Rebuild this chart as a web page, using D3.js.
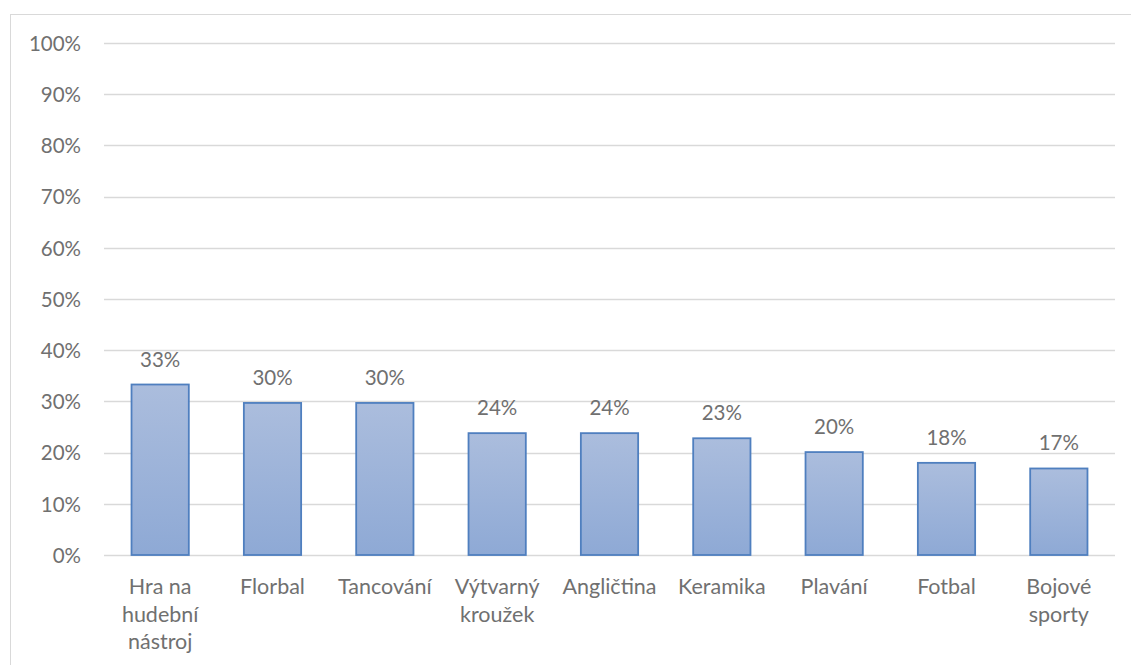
<!DOCTYPE html>
<html>
<head>
<meta charset="utf-8">
<script src="https://cdn.jsdelivr.net/npm/d3@7"></script>
<style>
  body { margin: 0; background: #fff; }
  text { font-family: Lato, "Open Sans", sans-serif; fill: #707070; }
</style>
</head>
<body>
<div id="chart"></div>
<script>
const categories = ["Hra na hudební nástroj", "Florbal", "Tancování", "Výtvarný kroužek",
  "Angličtina", "Keramika", "Plavání", "Fotbal", "Bojové sporty"];
const values = [0.333, 0.297, 0.297, 0.238, 0.238, 0.228, 0.201, 0.180, 0.169];
const valueLabels = ["33%", "30%", "30%", "24%", "24%", "23%", "20%", "18%", "17%"];
const yTicks = [0, 0.1, 0.2, 0.3, 0.4, 0.5, 0.6, 0.7, 0.8, 0.9, 1.0];

const width = 1131, height = 665;
const margin = {top: 43, right: 16, bottom: 110, left: 104};

const svg = d3.select("#chart").append("svg")
    .attr("width", width)
    .attr("height", height);

// chart frame
svg.append("rect")
    .attr("x", 10.5).attr("y", 14.5)
    .attr("width", 1200).attr("height", 700)
    .attr("fill", "none")
    .attr("stroke", "#d9d9d9");

const defs = svg.append("defs");
const grad = defs.append("linearGradient")
    .attr("id", "barGrad")
    .attr("x1", 0).attr("y1", 0).attr("x2", 0).attr("y2", 1);
grad.append("stop").attr("offset", "0%").attr("stop-color", "#abbddd");
grad.append("stop").attr("offset", "100%").attr("stop-color", "#8ea9d5");

const x = d3.scaleBand()
    .domain(categories)
    .range([margin.left, width - margin.right])
    .paddingInner(0.49)
    .paddingOuter(0.245);

const y = d3.scaleLinear()
    .domain([0, 1])
    .range([height - margin.bottom, margin.top]);

// gridlines
svg.append("g")
    .selectAll("line")
    .data(yTicks)
    .join("line")
    .attr("x1", margin.left)
    .attr("x2", width - margin.right)
    .attr("y1", d => Math.round(y(d)) + 0.5)
    .attr("y2", d => Math.round(y(d)) + 0.5)
    .attr("stroke", "#d9d9d9")
    .attr("stroke-width", 1.3);

// y labels
const yAxis = d3.axisLeft(y)
    .tickValues(yTicks)
    .tickFormat(d3.format(".0%"))
    .tickSize(0)
    .tickPadding(0);

svg.append("g")
    .attr("transform", "translate(81,0)")
    .call(yAxis)
    .call(g => g.select(".domain").remove())
    .selectAll("text")
    .attr("font-size", 20.5)
    .attr("font-family", "Lato, sans-serif")
    .attr("fill", "#707070")
    .attr("dy", "0.36em");

// bars
svg.append("g")
    .selectAll("rect")
    .data(values)
    .join("rect")
    .attr("x", (d, i) => x(categories[i]))
    .attr("y", d => y(d))
    .attr("width", x.bandwidth())
    .attr("height", d => y(0) - y(d))
    .attr("fill", "url(#barGrad)")
    .attr("stroke", "#4f7fbf")
    .attr("stroke-width", 1.8);

// value labels
svg.append("g")
    .selectAll("text")
    .data(values)
    .join("text")
    .attr("x", (d, i) => x(categories[i]) + x.bandwidth() / 2)
    .attr("y", d => y(d) - 18)
    .attr("text-anchor", "middle")
    .attr("font-size", 20.5)
    .text((d, i) => valueLabels[i]);

// category labels, wrapped
const xAxisG = svg.append("g")
    .attr("transform", "translate(0," + y(0) + ")")
    .call(d3.axisBottom(x).tickSize(0).tickPadding(0));
xAxisG.select(".domain").remove();
xAxisG.selectAll("text")
    .attr("font-size", 21.5)
    .attr("font-family", "Lato, sans-serif")
    .attr("fill", "#707070")
    .attr("y", 0)
    .attr("dy", 0)
    .each(function(d) { wrap(d3.select(this), d, 108); });

function wrap(text, str, maxW) {
  const words = str.split(" ");
  text.text(null);
  let lines = [], line = [];
  let tspan = text.append("tspan");
  words.forEach(w => {
    line.push(w);
    tspan.text(line.join(" "));
    if (tspan.node().getComputedTextLength() > maxW && line.length > 1) {
      line.pop();
      lines.push(line.join(" "));
      line = [w];
      tspan.text(w);
    }
  });
  lines.push(line.join(" "));
  text.text(null);
  lines.forEach((l, i) => {
    text.append("tspan")
      .attr("x", 0)
      .attr("y", 39 + i * 27.5)
      .text(l);
  });
}
</script>
</body>
</html>
